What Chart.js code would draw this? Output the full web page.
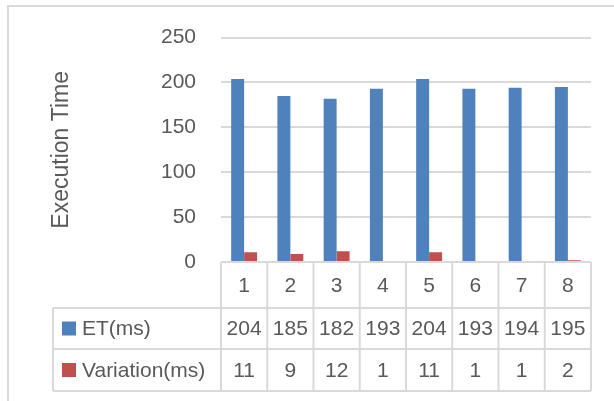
<!DOCTYPE html>
<html lang="en">
<head>
  <meta charset="UTF-8">
  <title>Execution Time</title>
  <script src="https://cdn.jsdelivr.net/npm/chart.js"></script>
  <style>
    html, body { margin: 0; padding: 0; background: #fff; }
    #wrap { width: 614px; height: 401px; }
  </style>
</head>
<body>
<div id="wrap">
  <canvas id="etChart" width="614" height="401"></canvas>
</div>

<script>
  // data
  const categories = ['1', '2', '3', '4', '5', '6', '7', '8'];
  const etValues = [204, 185, 182, 193, 204, 193, 194, 195];
  const variationValues = [11, 9, 12, 1, 11, 1, 1, 2];
  const seriesNames = ['ET(ms)', 'Variation(ms)'];
  const seriesColors = ['#4F81BD', '#C0504D'];
  const yTicks = [0, 50, 100, 150, 200, 250];

  const FONT = '"Liberation Sans", Arial, sans-serif';
  const TEXT = '#595959';
  const LINE = '#d9d9d9';

  // draws the frame and the data table under the plot, using the x scale
  const dataTable = {
    id: 'dataTable',
    beforeDraw(chart) {
      const c = chart.ctx;
      c.save();
      c.strokeStyle = LINE;
      c.lineWidth = 2;
      c.beginPath();
      c.moveTo(8, 401);
      c.lineTo(8, 6);
      c.lineTo(614, 6);
      c.stroke();
      c.restore();
    },
    afterDraw(chart) {
      const c = chart.ctx;
      const x = chart.scales.x;
      const area = chart.chartArea;
      const step = (area.right - area.left) / categories.length;
      const rowTops = [area.bottom, area.bottom + 46, area.bottom + 87, area.bottom + 129];
      const tableLeft = 53;

      c.save();
      c.strokeStyle = LINE;
      c.lineWidth = 2;
      c.beginPath();
      // horizontal lines
      c.moveTo(area.left, rowTops[0]); c.lineTo(area.right, rowTops[0]);
      for (let r = 1; r < rowTops.length; r++) {
        c.moveTo(tableLeft, rowTops[r]); c.lineTo(area.right, rowTops[r]);
      }
      // vertical lines
      for (let i = 0; i <= categories.length; i++) {
        const vx = area.left + i * step;
        c.moveTo(vx, rowTops[0]); c.lineTo(vx, rowTops[3]);
      }
      c.moveTo(tableLeft, rowTops[1]); c.lineTo(tableLeft, rowTops[3]);
      c.stroke();

      c.fillStyle = TEXT;
      c.font = '21px ' + FONT;
      c.textAlign = 'center';
      c.textBaseline = 'middle';
      const rows = [categories, etValues, variationValues];
      rows.forEach((vals, r) => {
        const cy = (rowTops[r] + rowTops[r + 1]) / 2 + 1;
        vals.forEach((v, i) => {
          c.fillText(String(v), x.getPixelForValue(i), cy);
        });
      });

      // legend keys in the table
      c.textAlign = 'left';
      seriesNames.forEach((name, s) => {
        const cy = (rowTops[s + 1] + rowTops[s + 2]) / 2;
        c.fillStyle = seriesColors[s];
        c.fillRect(62, cy - 7, 14, 14);
        c.fillStyle = TEXT;
        c.fillText(name, 82, cy + 1);
      });
      c.restore();
    }
  };

  const ctx = document.getElementById('etChart').getContext('2d');
  const etChart = new Chart(ctx, {
    type: 'bar',
    data: {
      labels: categories,
      datasets: [
        {
          label: seriesNames[0],
          data: etValues,
          backgroundColor: seriesColors[0]
        },
        {
          label: seriesNames[1],
          data: variationValues,
          backgroundColor: seriesColors[1]
        }
      ]
    },
    options: {
      responsive: false,
      animation: false,
      datasets: {
        bar: { categoryPercentage: 0.56, barPercentage: 1 }
      },
      layout: {
        padding: { left: 44, right: 23, top: 35, bottom: 139 }
      },
      plugins: {
        legend: { display: false },
        tooltip: { enabled: false }
      },
      scales: {
        x: {
          display: false
        },
        y: {
          min: 0,
          max: 250,
          afterBuildTicks(scale) {
            scale.ticks = yTicks.map(v => ({ value: v }));
          },
          afterFit(scale) {
            scale.width = 221 - 44;
          },
          border: { display: false },
          grid: { color: LINE, lineWidth: 2, drawTicks: false },
          ticks: {
            padding: 25,
            color: TEXT,
            font: { family: FONT, size: 21 }
          },
          title: {
            display: true,
            text: 'Execution Time',
            color: TEXT,
            padding: { top: 4, bottom: 4 },
            font: { family: FONT, size: 23 }
          }
        }
      }
    },
    plugins: [dataTable]
  });
</script>
</body>
</html>
